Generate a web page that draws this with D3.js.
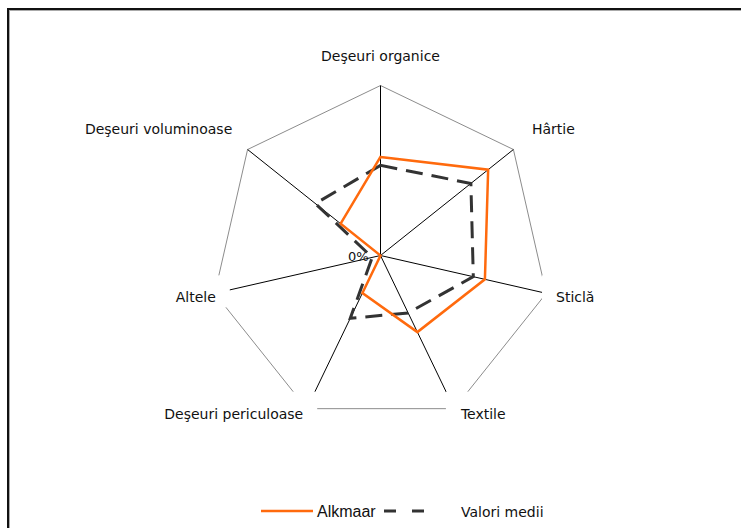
<!DOCTYPE html>
<html>
<head>
<meta charset="utf-8">
<script src="https://cdn.jsdelivr.net/npm/d3@7"></script>
<style>
body { margin: 0; background: #fff; }
svg { display: block; }
</style>
</head>
<body>
<div id="chart"></div>
<script>
// categories (clockwise from the top) and the two series, as fractions of 100%
var categories = ["Deşeuri organice", "Hârtie", "Sticlă", "Textile", "Deşeuri periculoase", "Altele", "Deşeuri voluminoase"];
var alkmaar = [0.58, 0.81, 0.63, 0.50, 0.245, 0.0, 0.30];
var valoriMedii = [0.53, 0.68, 0.56, 0.375, 0.41, 0.05, 0.49];
var seriesNames = ["Alkmaar", "Valori medii"];
var tickLabels = ["0%"];

// layout
var width = 741, height = 528;
var cx = 380.5, cy = 255.5, R = 170;
// where each category label sits, relative to its spoke end
var labelShift = [[0, -30], [40, -21], [29, 4], [29, 5], [-73, 5], [-19, 4], [-89, -21]];

var svg = d3.select("#chart")
	.append("svg")
	.attr("width", width)
	.attr("height", height);

// outer frame (runs off the right and bottom edges)
svg.append("rect")
	.attr("x", 9.5).attr("y", 10.5)
	.attr("width", 800).attr("height", 600)
	.style("fill", "none")
	.style("stroke", "#aaa")
	.style("stroke-width", 1);
svg.append("rect")
	.attr("x", 8).attr("y", 9)
	.attr("width", 800).attr("height", 600)
	.style("fill", "none")
	.style("stroke", "#111")
	.style("stroke-width", 2);

var n = categories.length;
var angle = d3.scaleLinear().domain([0, n]).range([0, 2 * Math.PI]);
var r = d3.scaleLinear().domain([0, 1]).range([0, R]);

var g = svg.append("g").attr("transform", "translate(" + cx + "," + cy + ")");

var radial = d3.lineRadial()
	.angle(function(d, i) { return angle(i); })
	.radius(function(d) { return r(d); })
	.curve(d3.curveLinearClosed);

// outer gridline at 100%
g.append("path")
	.attr("d", radial(categories.map(function() { return 1; })))
	.style("fill", "none")
	.style("stroke", "#8c8c8c")
	.style("stroke-width", 1);

// spokes
g.selectAll(".spoke")
	.data(categories)
	.enter().append("line")
	.attr("class", "spoke")
	.attr("x1", 0).attr("y1", 0)
	.attr("x2", function(d, i) { return r(1) * Math.sin(angle(i)); })
	.attr("y2", function(d, i) { return -r(1) * Math.cos(angle(i)); })
	.style("stroke", "#000")
	.style("stroke-width", 1);

// series
g.append("path")
	.attr("d", radial(valoriMedii))
	.style("fill", "none")
	.style("stroke", "#333")
	.style("stroke-width", 3)
	.style("stroke-dasharray", "17,9");

g.append("path")
	.attr("d", radial(alkmaar))
	.style("fill", "none")
	.style("stroke", "#ff6a0d")
	.style("stroke-width", 2.5)
	.style("stroke-linejoin", "miter");

// tick label at the centre
g.append("text")
	.attr("x", -12).attr("y", 5)
	.attr("text-anchor", "end")
	.style("font-family", "'DejaVu Sans', sans-serif")
	.style("font-size", "13px")
	.style("fill", "#111")
	.text(tickLabels[0]);

// category labels with white boxes (they hide the ends of the lines, as in the original)
var labels = g.selectAll(".cat")
	.data(categories)
	.enter().append("g")
	.attr("class", "cat")
	.attr("transform", function(d, i) {
		var x = r(1) * Math.sin(angle(i)) + labelShift[i][0];
		var y = -r(1) * Math.cos(angle(i)) + labelShift[i][1];
		return "translate(" + x + "," + y + ")";
	});

labels.append("rect").attr("class", "box").style("fill", "#fff");

labels.append("text")
	.attr("text-anchor", "middle")
	.attr("y", 5)
	.style("font-family", "'DejaVu Sans', sans-serif")
	.style("font-size", "14px")
	.style("fill", "#111")
	.text(function(d) { return d; });

labels.each(function(d, i) {
	var b = d3.select(this).select("text").node().getBBox();
	if (i === 0) return;
	d3.select(this).select("rect")
		.attr("x", b.x - 14).attr("y", b.y - 14)
		.attr("width", b.width + 28).attr("height", b.height + 16);
});

// legend
var legend = svg.append("g").attr("class", "legend");
legend.append("line")
	.attr("x1", 261).attr("x2", 313).attr("y1", 511).attr("y2", 511)
	.style("stroke", "#ff6a0d").style("stroke-width", 2.5);
legend.append("text")
	.attr("x", 317).attr("y", 517)
	.style("font-family", "'Liberation Sans', Arial, sans-serif")
	.style("font-size", "16px")
	.style("fill", "#111")
	.text(seriesNames[0]);
legend.append("line")
	.attr("x1", 384).attr("x2", 430).attr("y1", 511).attr("y2", 511)
	.style("stroke", "#333").style("stroke-width", 3)
	.style("stroke-dasharray", "12,16");
legend.append("text")
	.attr("x", 461).attr("y", 517)
	.style("font-family", "'DejaVu Sans', sans-serif")
	.style("font-size", "14px")
	.style("fill", "#111")
	.text(seriesNames[1]);
</script>
</body>
</html>
